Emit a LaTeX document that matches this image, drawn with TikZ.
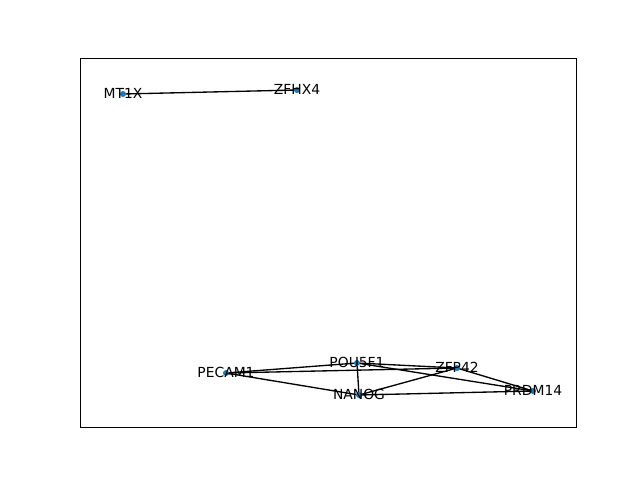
\documentclass[tikz,border=0pt]{standalone}
\usepackage{fontspec}
\setmainfont{DejaVu Sans}
\definecolor{mplblue}{HTML}{1F77B4}
\begin{document}
\begin{tikzpicture}[x=0.75pt,y=-0.75pt,
  edge/.style={draw=black,line width=1pt},
  dot/.style={circle,fill=mplblue,inner sep=0pt,minimum size=4.5pt},
  lbl/.style={font=\fontsize{10.4}{12}\selectfont,inner sep=0pt,text=black}]
\useasboundingbox (0,0) rectangle (640,480);
\draw[line width=0.6pt] (80,58) rectangle (576,427);
\coordinate (MT1X) at (123,94);
\coordinate (ZFHX4) at (297,90);
\coordinate (PECAM1) at (226,373);
\coordinate (POU5F1) at (357,363);
\coordinate (NANOG) at (359,395);
\coordinate (ZFP42) at (457,368);
\coordinate (PRDM14) at (533,391);
\foreach \a/\b in {MT1X/ZFHX4,PECAM1/POU5F1,PECAM1/ZFP42,PECAM1/NANOG,POU5F1/ZFP42,POU5F1/NANOG,POU5F1/PRDM14,ZFP42/NANOG,ZFP42/PRDM14,NANOG/PRDM14}
  \draw[edge] (\a) -- (\b);
\foreach \n in {MT1X,ZFHX4,PECAM1,POU5F1,NANOG,ZFP42,PRDM14}
  \node[dot] (d\n) at (\n) {};
\foreach \n in {MT1X,ZFHX4,PECAM1,POU5F1,NANOG,ZFP42,PRDM14}
  \node[lbl] (l\n) at ([yshift=0.6pt]\n) {\n};
\end{tikzpicture}
\end{document}
